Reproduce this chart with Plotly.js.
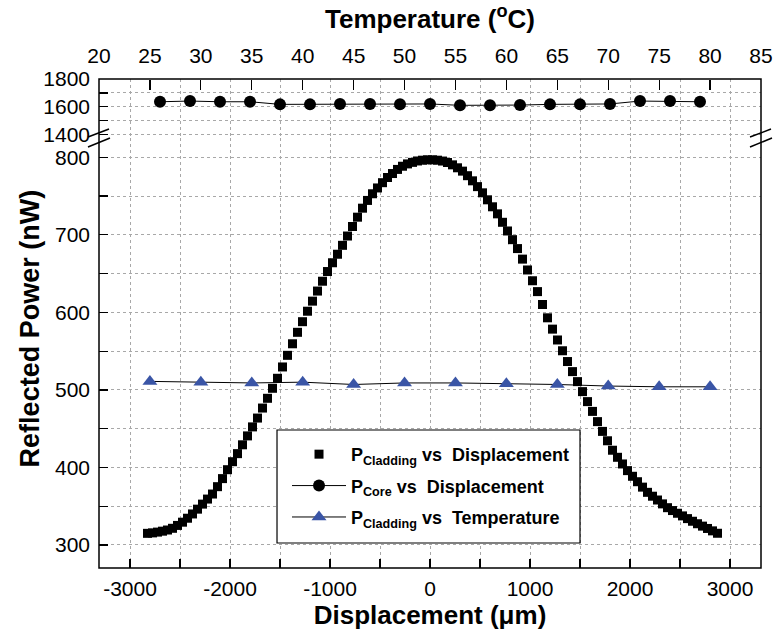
<!DOCTYPE html>
<html>
<head>
<meta charset="utf-8">
<script src="https://cdn.plot.ly/plotly-3.0.1.min.js"></script>
<style>html,body{margin:0;padding:0;background:#fff;}#chart{width:775px;height:634px;}</style>
</head>
<body>
<div id="chart"></div>
<script>
// P_Cladding vs Displacement (squares)
const dispCladding = [-2825,-2775,-2725,-2675,-2625,-2575,-2525,-2475,-2425,-2375,-2325,-2275,-2225,-2175,-2125,-2075,-2025,-1975,-1925,-1875,-1825,-1775,-1725,-1675,-1625,-1575,-1525,-1475,-1425,-1375,-1325,-1275,-1225,-1175,-1125,-1075,-1025,-975,-925,-875,-825,-775,-725,-675,-625,-575,-525,-475,-425,-375,-325,-275,-225,-175,-125,-75,-25,25,75,125,175,225,275,325,375,425,475,525,575,625,675,725,775,825,875,925,975,1025,1075,1125,1175,1225,1275,1325,1375,1425,1475,1525,1575,1625,1675,1725,1775,1825,1875,1925,1975,2025,2075,2125,2175,2225,2275,2325,2375,2425,2475,2525,2575,2625,2675,2725,2775,2825,2875];
const pCladdingDisp = [315.0,315.6,316.6,317.8,319.3,321.5,325.2,329.4,334.5,340.0,346.2,352.7,359.2,365.7,375.2,385.6,397.1,407.4,417.8,429.2,440.7,452.3,463.7,476.6,489.2,502.1,515.0,529.6,544.6,559.5,574.3,588.0,601.5,614.5,627.5,640.2,652.7,664.0,675.0,686.5,698.5,710.8,722.8,734.4,744.4,753.0,760.5,767.3,774.0,779.1,784.4,788.5,791.5,793.5,795.3,796.3,796.8,
796.8,796.3,795.2,793.3,790.3,786.5,782.2,776.3,769.7,762.2,754.2,745.2,736.2,727.1,716.2,705.0,693.8,682.3,668.7,654.7,640.8,626.8,610.2,593.0,578.4,564.4,550.5,536.6,523.6,510.7,497.8,484.9,472.3,459.1,446.5,434.4,422.2,413.1,404.5,395.9,388.6,381.6,374.6,367.9,362.9,358.0,353.0,348.1,344.4,340.9,337.5,334.0,330.6,327.4,324.3,321.3,318.2,315.1];

// P_Core vs Displacement (circles, upper panel)
const dispCore = [-2700,-2400,-2100,-1800,-1500,-1200,-900,-600,-300,0,300,600,900,1200,1500,1800,2100,2400,2700];
const pCore = [1636,1641,1636,1636,1617,1617,1620,1620,1618,1620,1610,1610,1612,1617,1617,1620,1641,1641,1636];

// P_Cladding vs Temperature (triangles)
const temperature = [25,30,35,40,45,50,55,60,65,70,75,80];
const pCladdingTemp = [511,510,509,510,507,509,509,508,507,505,504,504];

// tick labels
const dispTicks = [-3000,-2000,-1000,0,1000,2000,3000];
const tempTicks = [20,25,30,35,40,45,50,55,60,65,70,75,80,85];
const lowTicks = [300,400,500,600,700,800];
const highTicks = [1400,1600,1800];

const FONT = 'Liberation Sans, Arial, Helvetica, sans-serif';
const GRID = '#a8a8a8';
const BLUE = '#3a55a6';
const split = 0.8793;

const traces = [
  {x: dispCladding, y: pCladdingDisp, xaxis: 'x', yaxis: 'y', mode: 'markers', type: 'scatter',
   legendgroup: 'g1',
   name: '<b>P<sub>Cladding</sub> vs&nbsp; Displacement</b>',
   marker: {symbol: 'square', size: 9, color: '#000'}},
  {x: dispCore, y: pCore, xaxis: 'x3', yaxis: 'y2', mode: 'lines+markers', type: 'scatter',
   legendgroup: 'g2',
   name: '<b>P<sub>Core</sub> vs&nbsp; Displacement</b>',
   line: {color: '#000', width: 1}, marker: {symbol: 'circle', size: 12, color: '#000'}},
  {x: temperature, y: pCladdingTemp, xaxis: 'x2', yaxis: 'y', mode: 'lines+markers', type: 'scatter',
   legendgroup: 'g3',
   name: '<b>P<sub>Cladding</sub> vs&nbsp; Temperature</b>',
   line: {color: '#000', width: 1}, marker: {symbol: 'triangle-up', size: 13, color: BLUE}}
];

const gridCommon = {showgrid: true, gridcolor: GRID, griddash: 'dot', gridwidth: 1, zeroline: false, showline: false};

function brk(xa) {
  return [
    {type: 'line', xref: 'paper', yref: 'paper', xsizemode: 'pixel', ysizemode: 'pixel',
     xanchor: xa, yanchor: split, x0: -11, x1: 10, y0: 1, y1: 9, line: {color: '#000', width: 1.5}},
    {type: 'line', xref: 'paper', yref: 'paper', xsizemode: 'pixel', ysizemode: 'pixel',
     xanchor: xa, yanchor: split, x0: -11, x1: 11, y0: -9, y1: 0, line: {color: '#000', width: 1.5}}
  ];
}

const layout = {
  width: 775, height: 634,
  margin: {l: 99, r: 14, t: 79, b: 66},
  paper_bgcolor: '#fff', plot_bgcolor: '#fff',
  font: {family: FONT, size: 20, color: '#000'},
  showlegend: true,
  legend: {x: 0.284, y: 0.270, xanchor: 'left', yanchor: 'top', bgcolor: 'rgba(0,0,0,0)',
           borderwidth: 0, font: {family: FONT, size: 18, color: '#000'},
           itemwidth: 54, tracegroupgap: 5, traceorder: 'grouped'},
  xaxis: Object.assign({}, gridCommon, {
    domain: [0, 1], anchor: 'y', range: [-3310, 3310],
    tickmode: 'array', tickvals: dispTicks, ticktext: dispTicks.map(String),
    ticks: 'inside', ticklen: 9, tickwidth: 1.2, tickcolor: '#000', ticklabelstandoff: 6,
    minor: {dtick: 500, tick0: 0, ticks: 'inside', ticklen: 9, tickcolor: '#000', showgrid: true, gridcolor: GRID, griddash: 'dot'},
    tickfont: {size: 21},
    title: {text: '<b>Displacement (\u03bcm)</b>', font: {size: 26}, standoff: 4}
  }),
  xaxis3: Object.assign({}, gridCommon, {
    domain: [0, 1], anchor: 'y2', matches: 'x', range: [-3310, 3310],
    tickmode: 'array', tickvals: dispTicks, showticklabels: false, ticks: '',
    minor: {dtick: 500, tick0: 0, ticks: '', showgrid: true, gridcolor: GRID, griddash: 'dot'}
  }),
  xaxis2: {
    overlaying: 'x', anchor: 'free', position: 1, side: 'top', range: [20, 85],
    showgrid: false, zeroline: false, showline: false,
    tickmode: 'array', tickvals: tempTicks, ticktext: tempTicks.map(String),
    ticks: 'inside', ticklen: 10, tickwidth: 1.2, tickcolor: '#000', ticklabelstandoff: 12,
    tickfont: {size: 21},
    title: {text: '<b>Temperature (<sup>o</sup>C)</b>', font: {size: 26}, standoff: 6}
  },
  yaxis: Object.assign({}, gridCommon, {
    domain: [0, split], anchor: 'x', range: [270.3, 824.9],
    tickmode: 'array', tickvals: lowTicks, ticktext: lowTicks.map(String),
    ticks: 'inside', ticklen: 9, tickwidth: 1.2, tickcolor: '#000', ticklabelstandoff: 8,
    minor: {dtick: 50, tick0: 0, ticks: 'inside', ticklen: 9, tickcolor: '#000', showgrid: true, gridcolor: GRID, griddash: 'dot'},
    tickfont: {size: 21}
  }),
  yaxis2: Object.assign({}, gridCommon, {
    domain: [split, 1], anchor: 'x3', range: [1373, 1801],
    tickmode: 'array', tickvals: highTicks, ticktext: highTicks.map(String),
    ticks: 'inside', ticklen: 9, tickwidth: 1.2, tickcolor: '#000', ticklabelstandoff: 8,
    minor: {dtick: 100, tick0: 0, ticks: 'inside', ticklen: 9, tickcolor: '#000', showgrid: true, gridcolor: GRID, griddash: 'dot'},
    tickfont: {size: 21}
  }),
  annotations: [
    {text: '<b>Reflected Power (nW)</b>', xref: 'paper', yref: 'paper', x: 0, y: 0.49,
     xshift: -69, xanchor: 'center', yanchor: 'middle', textangle: -90, showarrow: false,
     font: {family: FONT, size: 27, color: '#000'}}
  ],
  shapes: [
    {type: 'rect', xref: 'paper', yref: 'paper', x0: 0, x1: 1, y0: 0, y1: 1,
     line: {color: '#000', width: 1.5}, fillcolor: 'rgba(0,0,0,0)'},
    {type: 'rect', xref: 'paper', yref: 'paper', x0: 0.2689, x1: 0.7266, y0: 0.0511, y1: 0.2822,
     layer: 'above', line: {color: '#000', width: 1.2}, fillcolor: '#fff'}
  ].concat(brk(0), brk(1))
};

Plotly.newPlot('chart', traces, layout, {displayModeBar: false, staticPlot: true});
</script>
</body>
</html>
